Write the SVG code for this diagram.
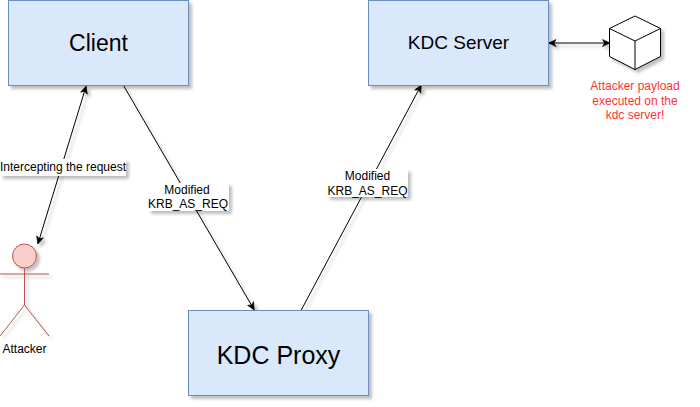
<svg xmlns="http://www.w3.org/2000/svg" width="700" height="407" viewBox="0 0 700 407">
<style>
text{font-family:"Liberation Sans",Arial,sans-serif;text-anchor:middle;fill:#000}
.box{fill:#dae8fc;stroke:#6c8ebf;stroke-width:1}
.edge{fill:none;stroke:#000;stroke-width:1}
.lbl{font-size:12px}
.actor{fill:none;stroke:#b85450;stroke-width:1}
.cube{fill:#fff;stroke:#000;stroke-width:1;stroke-linejoin:round}
</style>
<defs>
<filter id="sh" x="-20%" y="-20%" width="150%" height="150%">
<feDropShadow dx="3" dy="3" stdDeviation="1.5" flood-color="#000" flood-opacity="0.25"/>
</filter>
<marker id="end" markerWidth="9" markerHeight="9" refX="7.5" refY="4" orient="auto-start-reverse" markerUnits="userSpaceOnUse" viewBox="0 0 9 8">
<path d="M0.5 0.5L8 4L0.5 7.5L2.5 4Z" fill="#000" stroke="#000" stroke-width="0.6"/>
</marker>
</defs>
<g id="connectors" filter="url(#sh)">
<path class="edge" d="M123.500 85.500L254 309.500" marker-end="url(#end)"/>
<path class="edge" d="M301 310.500L421 85.500" marker-end="url(#end)"/>
<path class="edge" d="M86 86.500L38 243.500" marker-start="url(#end)" marker-end="url(#end)"/>
<path class="edge" d="M549 43H609.500" marker-start="url(#end)" marker-end="url(#end)"/>
</g>
<g id="client"><rect class="box" x="8.500" y="0.500" width="180" height="85" filter="url(#sh)"/><text x="98.500" y="51" font-size="23">Client</text></g>
<g id="kdc-server"><rect class="box" x="368.500" y="0.500" width="180" height="85" filter="url(#sh)"/><text x="458.500" y="49" font-size="19">KDC Server</text></g>
<g id="kdc-proxy"><rect class="box" x="188.500" y="310.500" width="180" height="85" filter="url(#sh)"/><text x="278.500" y="364" font-size="25">KDC Proxy</text></g>
<g id="attacker">
<g filter="url(#sh)">
<ellipse cx="24.500" cy="256" rx="12" ry="12" fill="#f8cecc" stroke="#b85450"/>
<path class="actor" d="M24.500 268V305M0 274H49M24.500 305L0 336M24.500 305L49 336"/>
</g>
<text class="lbl" x="24.500" y="352.500">Attacker</text>
</g>
<g id="cube">
<g filter="url(#sh)">
<path class="cube" d="M635 16L660.500 28.500V56.500L635 69.500L609.500 56.500V28.500Z"/>
<path class="edge" d="M609.500 28.500L635 41L660.500 28.500M635 41V69.500"/>
</g>
</g>
<g id="payload-note">
<text class="lbl" x="635" y="90" style="fill:#ff3333">Attacker payload</text>
<text class="lbl" x="635" y="104.500" style="fill:#ff3333">executed on the</text>
<text class="lbl" x="635" y="119" style="fill:#ff3333">kdc server!</text>
</g>
<g id="label-intercept"><rect x="0" y="159" width="126" height="17" fill="#fff" filter="url(#sh)"/><text class="lbl" x="63" y="171">Intercepting the request</text></g>
<g id="label-mod-left"><rect x="148" y="183" width="81" height="28" fill="#fff" filter="url(#sh)"/><text class="lbl" x="187" y="194">Modified</text><text class="lbl" x="188" y="208">KRB_AS_REQ</text></g>
<g id="label-mod-right"><rect x="327" y="169" width="81" height="28" fill="#fff" filter="url(#sh)"/><text class="lbl" x="367.500" y="180">Modified</text><text class="lbl" x="367.500" y="194.500">KRB_AS_REQ</text></g>
</svg>
